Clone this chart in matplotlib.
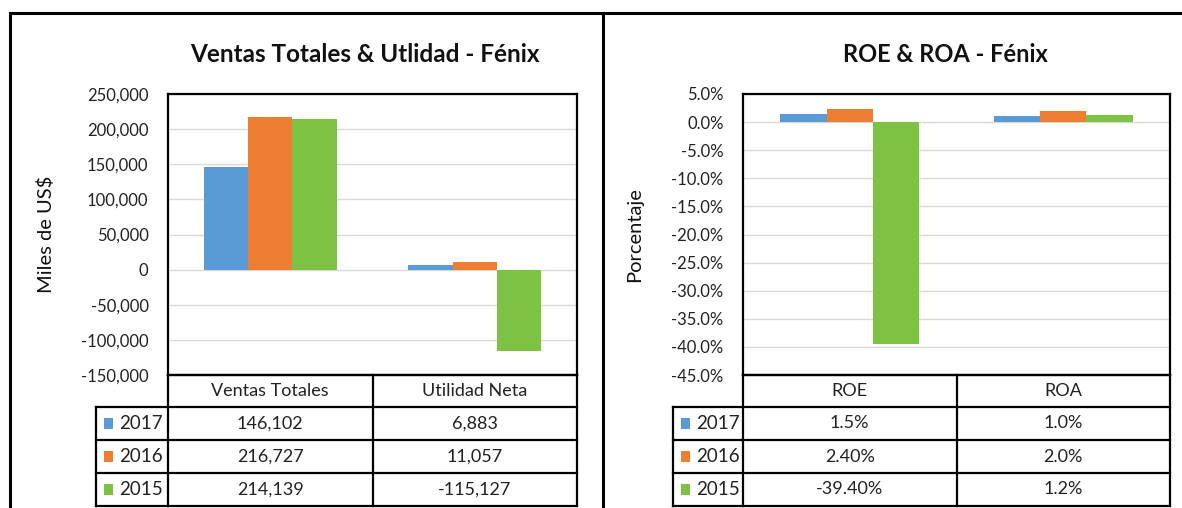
import matplotlib
matplotlib.use("Agg")
import matplotlib.pyplot as plt
import numpy as np
from matplotlib.ticker import FuncFormatter
from matplotlib.patches import Rectangle

plt.rcParams['font.family'] = ['Lato', 'DejaVu Sans']

# ---- data ----
years = ["2017", "2016", "2015"]
colors = ["#5B9BD5", "#ED7D31", "#7DC243"]

left_categories = ["Ventas Totales", "Utilidad Neta"]
ventas = [146102, 216727, 214139]
utilidad = [6883, 11057, -115127]
left_labels = [["146,102", "6,883"], ["216,727", "11,057"], ["214,139", "-115,127"]]

right_categories = ["ROE", "ROA"]
roe = [1.5, 2.4, -39.4]
roa = [1.0, 2.0, 1.2]
right_labels = [["1.5%", "1.0%"], ["2.40%", "2.0%"], ["-39.40%", "1.2%"]]

W, H = 1182, 508
fig = plt.figure(figsize=(W / 100, H / 100), dpi=100)
fig.patch.set_facecolor("white")


def rect(x0, y0, x1, y1):
    return [x0 / W, 1 - y1 / H, (x1 - x0) / W, (y1 - y0) / H]


# overlay axes in pixel coordinates for frames and tables
ov = fig.add_axes([0, 0, 1, 1], zorder=5)
ov.set_xlim(0, W)
ov.set_ylim(H, 0)
ov.axis("off")
ov.patch.set_alpha(0)

LW = 1.6
TXT = "#222222"
# outer frame
ov.plot([10, W], [13, 13], color="black", lw=2.2, solid_capstyle="butt")
ov.plot([10, 10], [13, H], color="black", lw=2.2)
ov.plot([603, 603], [13, H], color="black", lw=2.2)


def panel(px0, px1, legx, cats, series, labels, ylim, ticks, fmt, title, ylabel,
          ylabel_x, title_x, title_size):
    ax = fig.add_axes(rect(px0, 94, px1, 375))
    x = np.arange(len(cats))
    w = 0.217
    for i, (vals, c) in enumerate(zip(series, colors)):
        ax.bar(x + (i - 1) * w, vals, width=w, color=c, zorder=3)
    ax.set_xlim(-0.5, len(cats) - 0.5)
    ax.set_ylim(*ylim)
    ax.set_yticks(ticks)
    ax.yaxis.set_major_formatter(FuncFormatter(fmt))
    ax.set_xticks([])
    ax.tick_params(axis="y", length=0, labelsize=12, pad=14, colors=TXT)
    ax.grid(axis="y", color="#D9D9D9", lw=1.0, zorder=0)
    for s in ax.spines.values():
        s.set_linewidth(LW)
        s.set_color("black")
    ax.set_ylabel(ylabel, fontsize=14.5, color="#111111")
    ax.yaxis.set_label_coords((ylabel_x - px0) / (px1 - px0), 0.5)
    fig.text(title_x / W, 1 - 55 / H, title, fontsize=title_size, fontweight="bold",
             ha="center", va="center", color="#111111")

    # table
    mid = (px0 + px1) / 2
    rows = [375, 407, 440, 473, 506]
    ov.plot([px0, px0], [375, 506], color="black", lw=LW)
    ov.plot([px1, px1], [375, 506], color="black", lw=LW)
    ov.plot([mid, mid], [375, 506], color="black", lw=LW)
    ov.plot([px0, px1], [375, 375], color="black", lw=LW)
    for r in rows[1:]:
        ov.plot([legx, px1], [r, r], color="black", lw=LW)
    ov.plot([legx, legx], [407, 506], color="black", lw=LW)
    for j, cat in enumerate(cats):
        cx = (px0 + mid) / 2 if j == 0 else (mid + px1) / 2
        ov.text(cx, 391, cat, ha="center", va="center", fontsize=13, color=TXT)
    for i, yr in enumerate(years):
        cy = (rows[i + 1] + rows[i + 2]) / 2
        ov.add_patch(Rectangle((legx + 8, cy - 5.5), 9, 11, color=colors[i], lw=0))
        ov.text(legx + 23, cy, yr, ha="left", va="center", fontsize=13.5, color=TXT)
        for j in range(len(cats)):
            cx = (px0 + mid) / 2 if j == 0 else (mid + px1) / 2
            ov.text(cx, cy, labels[i][j], ha="center", va="center", fontsize=13, color=TXT)
    return ax


left_series = [[ventas[i], utilidad[i]] for i in range(3)]
panel(168, 577, 96, left_categories, left_series, left_labels,
      (-150000, 250000), np.arange(-150000, 250001, 50000),
      lambda v, p: f"{int(v):,}", "Ventas Totales & Utlidad - Fénix",
      "Miles de US$", 55, 365, 17.5)

right_series = [[roe[i], roa[i]] for i in range(3)]
panel(743, 1170, 673, right_categories, right_series, right_labels,
      (-45, 5), np.arange(-45, 5.01, 5),
      lambda v, p: f"{v:.1f}%", "ROE & ROA - Fénix",
      "Porcentaje", 643, 945, 17)

fig.savefig("out.png", dpi=100, facecolor="white")
